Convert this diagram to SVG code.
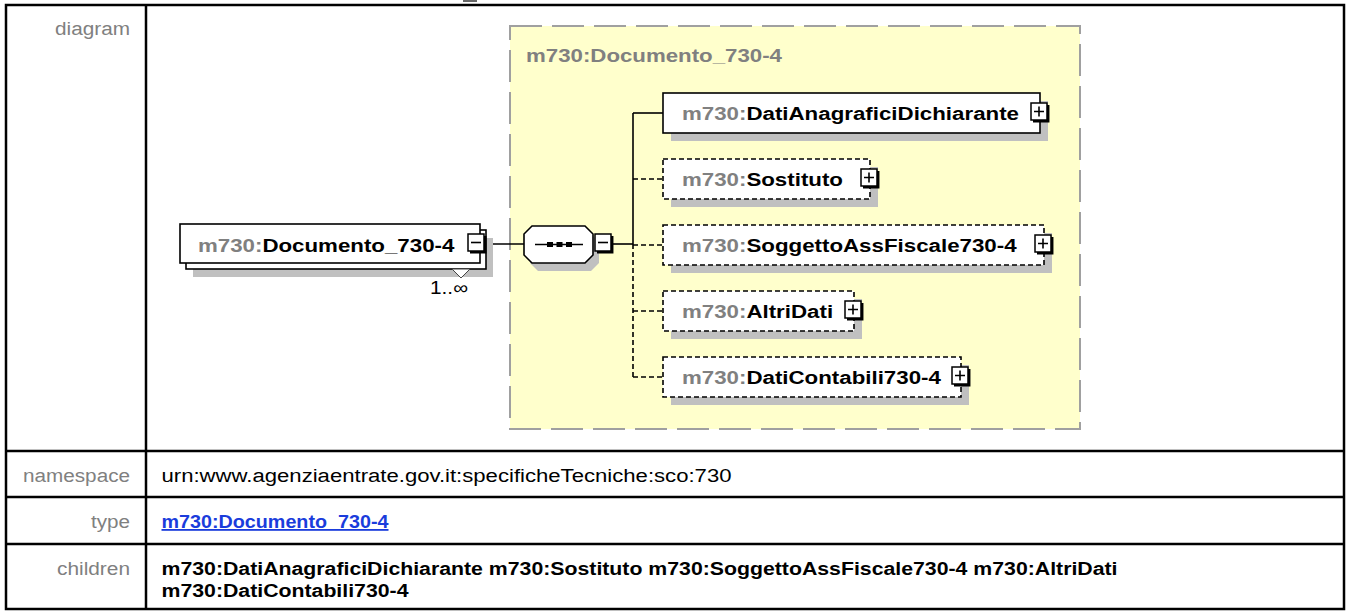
<svg xmlns="http://www.w3.org/2000/svg" xmlns:xlink="http://www.w3.org/1999/xlink" width="1348" height="611" viewBox="0 0 1348 611">
<style>
.lbl{font-family:"Liberation Sans",Arial,sans-serif;font-size:18px;fill:#808080}
.val{font-family:"Liberation Sans",Arial,sans-serif;font-size:18px;fill:#000}
.bval{font-family:"Liberation Sans",Arial,sans-serif;font-size:18px;font-weight:bold;fill:#000}
.lnk{font-family:"Liberation Sans",Arial,sans-serif;font-size:18px;font-weight:bold;fill:#1a3cdc;text-decoration:underline}
.nt{font-family:"Liberation Sans",Arial,sans-serif;font-size:18px;font-weight:bold;fill:#000}
.ns{fill:#808080}
.tl{stroke:#000;stroke-width:2.5;fill:none}
.box{fill:#fff;stroke:#000;stroke-width:1.6}
.dbox{fill:#fff;stroke:#000;stroke-width:1.6;stroke-dasharray:5 3}
.shadow{fill:#c0c0c0}
.conn{stroke:#000;stroke-width:1.6;fill:none}
.dconn{stroke:#000;stroke-width:1.6;fill:none;stroke-dasharray:5 3}
.btn{fill:#fff;stroke:#000;stroke-width:1.5}
.bsh{stroke:#000;stroke-width:2.5;fill:none}
.sgn{stroke:#000;stroke-width:1.6;fill:none}
</style>
<defs>
<g id="btnPlus">
<rect class="btn" x="0" y="0" width="16" height="17"/>
<path class="bsh" d="M17.2,2 V18.2 H2"/>
<path class="sgn" d="M3,8.5 H13 M8,3.5 V13.5"/>
</g>
<g id="btnMinus">
<rect class="btn" x="0" y="0" width="16" height="17"/>
<path class="bsh" d="M17.2,2 V18.2 H2"/>
<path class="sgn" d="M3,8.5 H13"/>
</g>
</defs>

<rect x="0" y="0" width="1348" height="611" fill="#fff"/>
<line x1="463" y1="1" x2="477" y2="1" stroke="#333" stroke-width="1.5"/>

<g id="table">
<rect class="tl" x="6" y="5" width="1338" height="604"/>
<line class="tl" x1="146" y1="5" x2="146" y2="609"/>
<line class="tl" x1="6" y1="451" x2="1344" y2="451"/>
<line class="tl" x1="6" y1="497" x2="1344" y2="497"/>
<line class="tl" x1="6" y1="544" x2="1344" y2="544"/>
<text class="lbl" x="130" y="35" text-anchor="end" textLength="75" lengthAdjust="spacingAndGlyphs">diagram</text>
<text class="lbl" x="130" y="482" text-anchor="end" textLength="107" lengthAdjust="spacingAndGlyphs">namespace</text>
<text class="lbl" x="130" y="528" text-anchor="end" textLength="39" lengthAdjust="spacingAndGlyphs">type</text>
<text class="lbl" x="130" y="575" text-anchor="end" textLength="73" lengthAdjust="spacingAndGlyphs">children</text>
<text class="val" x="161.5" y="482" textLength="570" lengthAdjust="spacingAndGlyphs">urn:www.agenziaentrate.gov.it:specificheTecniche:sco:730</text>
<text class="lnk" x="161.5" y="528" textLength="227" lengthAdjust="spacingAndGlyphs">m730:Documento_730-4</text>
<text class="bval" x="161.5" y="575" textLength="956" lengthAdjust="spacingAndGlyphs">m730:DatiAnagraficiDichiarante m730:Sostituto m730:SoggettoAssFiscale730-4 m730:AltriDati</text>
<text class="bval" x="161.5" y="597" textLength="247" lengthAdjust="spacingAndGlyphs">m730:DatiContabili730-4</text>
</g>

<g id="complexType">
<rect x="510" y="26" width="570" height="403" fill="#ffffcc" stroke="#a0a0a0" stroke-width="2" stroke-dasharray="32 10"/>
<text class="nt ns" x="526" y="62" textLength="256" lengthAdjust="spacingAndGlyphs">m730:Documento_730-4</text>
</g>

<g id="connectors">
<line class="conn" x1="486" y1="244" x2="524" y2="244"/>
<line class="conn" x1="613" y1="244" x2="633" y2="244"/>
<line class="conn" x1="633" y1="113" x2="633" y2="244"/>
<line class="dconn" x1="633" y1="244" x2="633" y2="377"/>
<line class="conn" x1="633" y1="113" x2="663" y2="113"/>
<line class="dconn" x1="633" y1="179" x2="663" y2="179"/>
<line class="dconn" x1="633" y1="245" x2="663" y2="245"/>
<line class="dconn" x1="633" y1="311" x2="663" y2="311"/>
<line class="dconn" x1="633" y1="377" x2="663" y2="377"/>
</g>

<g id="Documento_730-4">
<rect class="shadow" x="193" y="238" width="300" height="39"/>
<rect class="box" x="186" y="230" width="300" height="39"/>
<rect class="box" x="180" y="224" width="300" height="39"/>
<polygon points="452,269 470,269 461,278" fill="#fff" stroke="#444" stroke-width="1"/>
<text class="nt ns" x="198" y="251.5" textLength="64.4" lengthAdjust="spacingAndGlyphs">m730:</text>
<text class="nt" x="262.4" y="251.5" textLength="192" lengthAdjust="spacingAndGlyphs">Documento_730-4</text>
<use xlink:href="#btnMinus" x="468" y="234"/>
<text class="val" x="430" y="294" font-size="16" textLength="38" lengthAdjust="spacingAndGlyphs">1..∞</text>
</g>

<g id="sequence">
<polygon class="shadow" points="538,234 591,234 599,242 599,263 591,271 538,271 530,263 530,242"/>
<polygon class="box" points="532,226 585,226 593,234 593,255 585,263 532,263 524,255 524,234"/>
<line class="conn" x1="535" y1="244.5" x2="583" y2="244.5"/>
<rect x="547" y="242" width="6" height="5" fill="#000"/>
<rect x="556.5" y="242" width="6" height="5" fill="#000"/>
<rect x="566" y="242" width="6" height="5" fill="#000"/>
<use xlink:href="#btnMinus" x="595" y="234"/>
</g>

<g id="DatiAnagraficiDichiarante">
<rect class="shadow" x="671" y="101" width="377" height="40"/>
<rect class="box" x="663" y="93" width="377" height="40"/>
<text class="nt ns" x="682" y="119.5" textLength="64.4" lengthAdjust="spacingAndGlyphs">m730:</text>
<text class="nt" x="746.4" y="119.5" textLength="272.6" lengthAdjust="spacingAndGlyphs">DatiAnagraficiDichiarante</text>
<use xlink:href="#btnPlus" x="1031" y="103"/>
</g>

<g id="Sostituto">
<rect class="shadow" x="671" y="167" width="207" height="40"/>
<rect class="dbox" x="663" y="159" width="207" height="40"/>
<text class="nt ns" x="682" y="185.5" textLength="64.4" lengthAdjust="spacingAndGlyphs">m730:</text>
<text class="nt" x="746.4" y="185.5" textLength="96.6" lengthAdjust="spacingAndGlyphs">Sostituto</text>
<use xlink:href="#btnPlus" x="861" y="169"/>
</g>

<g id="SoggettoAssFiscale730-4">
<rect class="shadow" x="671" y="233" width="381" height="40"/>
<rect class="dbox" x="663" y="225" width="381" height="40"/>
<text class="nt ns" x="682" y="251.5" textLength="64.4" lengthAdjust="spacingAndGlyphs">m730:</text>
<text class="nt" x="746.4" y="251.5" textLength="270.2" lengthAdjust="spacingAndGlyphs">SoggettoAssFiscale730-4</text>
<use xlink:href="#btnPlus" x="1035" y="235"/>
</g>

<g id="AltriDati">
<rect class="shadow" x="671" y="299" width="191" height="40"/>
<rect class="dbox" x="663" y="291" width="191" height="40"/>
<text class="nt ns" x="682" y="317.5" textLength="64.4" lengthAdjust="spacingAndGlyphs">m730:</text>
<text class="nt" x="746.4" y="317.5" textLength="86.7" lengthAdjust="spacingAndGlyphs">AltriDati</text>
<use xlink:href="#btnPlus" x="845" y="301"/>
</g>

<g id="DatiContabili730-4">
<rect class="shadow" x="671" y="365" width="298" height="40"/>
<rect class="dbox" x="663" y="357" width="298" height="40"/>
<text class="nt ns" x="682" y="383.5" textLength="64.4" lengthAdjust="spacingAndGlyphs">m730:</text>
<text class="nt" x="746.4" y="383.5" textLength="194.5" lengthAdjust="spacingAndGlyphs">DatiContabili730-4</text>
<use xlink:href="#btnPlus" x="952" y="367"/>
</g>
</svg>
